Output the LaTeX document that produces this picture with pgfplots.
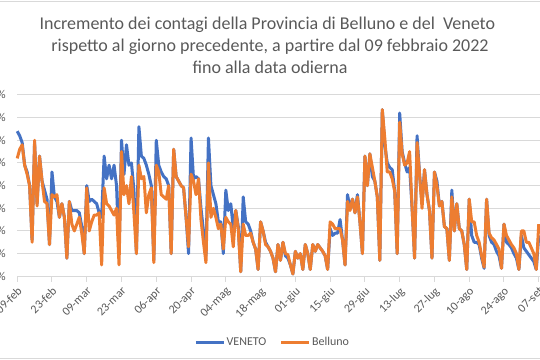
\documentclass[border=0pt]{standalone}
\usepackage{pgfplots}
\usepackage{pgfplotstable}
\pgfplotsset{compat=1.18}
\usepackage{fontspec}
\setmainfont{Carlito}
\definecolor{ven}{HTML}{4472C4}
\definecolor{bel}{HTML}{ED7D31}
\definecolor{gridc}{HTML}{D9D9D9}
\definecolor{txt}{HTML}{595959}
\pgfplotstableread{
d B O
0 6.4 5.2
1 6.2 5.6
2 5.9 5.8
3 4.9 4.9
4 4.6 4.5
5 4.0 4.0
6 1.6 1.5
7 5.9 6.0
8 3.2 3.1
9 5.3 5.3
10 4.2 4.2
11 3.8 3.3
12 3.4 3.2
13 1.4 1.4
14 4.6 3.6
15 3.5 3.5
16 3.3 3.6
17 2.6 2.6
18 3.2 3.2
19 2.6 2.6
20 0.8 0.8
21 3.3 3.3
22 2.9 2.3
23 2.9 2.0
24 2.9 2.3
25 2.8 2.6
26 2.2 1.9
27 1.0 1.0
28 4.0 3.9
29 3.3 2.0
30 3.4 2.4
31 3.3 2.7
32 3.2 2.7
33 2.8 2.8
34 2.6 0.5
35 5.3 3.9
36 4.3 3.2
37 4.9 3.1
38 4.3 2.9
39 4.9 2.7
40 4.0 3.0
41 1.0 0.5
42 6.0 5.5
43 4.5 3.6
44 5.8 4.0
45 4.9 3.2
46 5.0 4.4
47 3.8 2.8
48 1.0 1.0
49 6.6 4.9
50 5.3 4.3
51 5.2 4.4
52 4.9 2.8
53 4.5 3.6
54 4.0 3.9
55 0.7 0.6
56 6.0 4.9
57 4.9 4.6
58 4.6 3.6
59 4.4 3.5
60 4.3 3.4
61 4.0 4.0
62 1.0 1.0
63 5.6 5.6
64 4.4 4.4
65 4.2 4.2
66 4.0 4.0
67 3.9 3.9
68 2.6 2.6
69 1.0 1.3
70 6.1 4.5
71 4.3 4.2
72 4.4 3.6
73 4.3 4.3
74 3.0 2.5
75 2.0 1.5
76 0.9 0.6
77 6.1 5.0
78 4.0 2.6
79 3.6 3.0
80 3.2 2.6
81 2.4 2.1
82 2.4 2.3
83 1.0 1.2
84 3.8 2.6
85 2.9 2.4
86 3.2 2.3
87 2.1 1.3
88 2.9 2.9
89 2.2 2.1
90 0.2 0.2
91 3.5 2.3
92 2.4 1.8
93 2.3 1.8
94 2.0 1.9
95 1.5 1.5
96 1.2 1.2
97 0.3 0.3
98 2.4 2.4
99 2.0 2.0
100 1.5 1.4
101 1.3 1.3
102 1.1 1.1
103 0.8 0.8
104 0.2 0.2
105 1.4 1.4
106 0.7 0.7
107 1.5 1.5
108 0.9 1.0
109 0.8 0.95
110 0.5 0.5
111 0.1 0.1
112 1.1 1.1
113 0.8 0.8
114 1.0 1.0
115 0.3 0.3
116 1.4 1.4
117 1.0 1.0
118 0.3 0.3
119 1.4 1.4
120 1.1 1.1
121 1.4 1.4
122 1.25 1.25
123 1.1 1.1
124 0.9 0.9
125 0.3 0.3
126 2.1 2.4
127 1.8 2.3
128 1.9 2.1
129 1.9 2.1
130 2.5 2.1
131 1.6 1.6
132 0.5 0.5
133 3.6 3.3
134 3.0 2.9
135 3.4 3.4
136 2.8 2.8
137 3.6 3.5
138 2.4 2.4
139 1.0 1.0
140 5.3 5.3
141 4.0 4.0
142 5.4 5.4
143 4.4 4.8
144 4.2 4.2
145 3.5 3.5
146 0.7 0.7
147 7.35 7.35
148 5.8 6.1
149 5.0 4.6
150 4.8 4.6
151 4.7 4.3
152 3.75 3.75
153 1.0 1.0
154 7.2 6.8
155 5.5 5.4
156 5.0 4.9
157 4.6 5.0
158 4.8 5.5
159 3.0 3.0
160 0.8 0.8
161 6.2 5.9
162 4.5 4.5
163 3.2 3.0
164 4.7 4.7
165 3.6 3.6
166 2.9 2.9
167 0.8 0.8
168 4.6 4.6
169 4.2 4.0
170 3.1 3.1
171 3.3 3.3
172 2.2 2.2
173 2.1 2.1
174 0.7 0.7
175 3.8 3.5
176 2.0 2.0
177 3.2 3.2
178 2.1 2.1
179 2.0 2.0
180 1.4 1.4
181 0.3 0.3
182 3.4 3.4
183 1.8 2.4
184 1.5 2.4
185 1.5 1.8
186 1.4 1.5
187 0.8 0.9
188 0.35 0.4
189 3.4 3.4
190 1.8 1.9
191 1.5 1.7
192 1.4 1.6
193 1.1 1.4
194 0.9 1.2
195 0.35 0.35
196 2.3 2.3
197 1.5 1.8
198 1.4 1.6
199 1.25 1.4
200 1.0 1.25
201 0.8 1.0
202 0.3 0.3
203 1.8 2.0
204 1.25 2.0
205 1.1 1.5
206 0.95 1.5
207 0.8 1.25
208 0.65 1.0
209 0.3 0.3
210 1.8 2.3
}\datatab
\begin{document}
\begin{tikzpicture}
\begin{axis}[
  at={(12.9pt,62.8pt)}, anchor=south west,
  scale only axis, width=392.1pt, height=136pt,
  xmin=0, xmax=210.5, ymin=0, ymax=8,
  axis x line*=bottom, axis y line*=left,
  x axis line style={draw=gridc, line width=0.75pt, -},
  y axis line style={draw=none},
  ytick={0,1,...,8},
  yticklabels={0\%,5\%,10\%,15\%,20\%,25\%,30\%,35\%,40\%},
  ymajorgrids, major grid style={draw=gridc, line width=0.75pt},
  ytick style={draw=none},
  xtick={0,14,...,210},
  xticklabels={09-feb,23-feb,09-mar,23-mar,06-apr,20-apr,04-mag,18-mag,01-giu,15-giu,29-giu,13-lug,27-lug,10-ago,24-ago,07-set},
  tick align=outside, major tick length=4pt,
  xtick style={draw=gridc, line width=0.75pt},
  tick label style={font=\fontsize{9}{10}\selectfont, text=txt},
  xticklabel style={rotate=45, anchor=north east, inner sep=1pt, yshift=-1pt, xshift=-1.5pt},
  yticklabel style={xshift=-1pt},
  legend style={at={(0.488,-0.364)}, anchor=center, draw=none, fill=none,
    font=\fontsize{9}{10}\selectfont, text=txt, legend columns=2,
    /tikz/every even column/.append style={column sep=9pt},
    /tikz/every odd column/.append style={column sep=0pt},
    nodes={inner sep=1pt}},
  legend image code/.code={\draw[#1, line width=2.25pt] (0pt,0pt) -- (21pt,0pt);},
  clip=false,
]
\addplot[ven, line width=2.25pt, line join=round] table[x=d, y=B] {\datatab};
\addlegendentry{VENETO}
\addplot[bel, line width=2.25pt, line join=round] table[x=d, y=O] {\datatab};
\addlegendentry{Belluno}
\end{axis}
\draw[gridc, line width=0.75pt] (-20pt,0.8pt) rectangle (430pt,269.2pt);
\begin{scope}[every node/.style={font=\fontsize{13.5}{16}\selectfont, text=txt, anchor=base, inner sep=0pt}]
\node at (200.5pt,248pt) {Incremento dei contagi della Provincia di Belluno e del\ \ Veneto};
\node at (202.5pt,231.2pt) {rispetto al giorno precedente, a partire dal 09 febbraio 2022};
\node at (202.5pt,215pt) {fino alla data odierna};
\end{scope}
\pgfresetboundingbox
\useasboundingbox (0,0) rectangle (405pt,270pt);
\end{tikzpicture}
\end{document}
